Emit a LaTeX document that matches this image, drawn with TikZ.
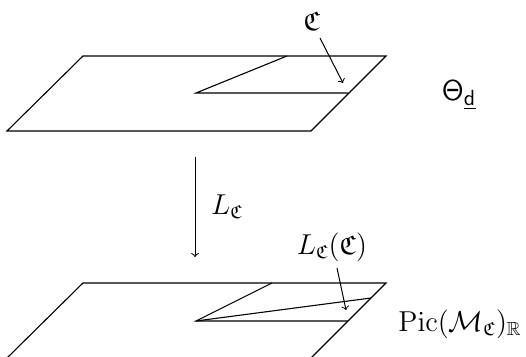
\documentclass[tikz,border=0pt]{standalone}
\usepackage{amsmath,amssymb}
\begin{document}
\begin{tikzpicture}[x=0.5pt,y=-0.5pt,
  plane/.style={line width=0.55pt},
  pointer/.style={line width=0.5pt,-to},
  lab/.style={inner sep=0pt,font=\fontsize{13.5}{16}\selectfont}]
\useasboundingbox (0,0) rectangle (526,357);
\clip (0,0) rectangle (526,357);
% top plane
\coordinate (A1) at (7,131);
\coordinate (B1) at (83,56);
\coordinate (C1) at (386,56);
\coordinate (D1) at (311,131);
\draw[plane] (A1) -- (B1) -- (C1) -- (D1) -- cycle;
\coordinate (T1) at (287,56);
\coordinate (L1) at (196,93);
\coordinate (R1) at (348,93);
\draw[plane] (T1) -- (L1) -- (R1);
% bottom plane
\coordinate (A2) at (7,358);
\coordinate (B2) at (83,283);
\coordinate (C2) at (386,283);
\coordinate (D2) at (311,358);
\draw[plane] (A2) -- (B2) -- (C2) -- (D2) -- cycle;
\coordinate (T2) at (272,283);
\coordinate (L2) at (196,321);
\coordinate (R2) at (348,321);
\coordinate (S2) at (371,298);
\draw[plane] (T2) -- (L2) -- (R2);
\draw[plane] (L2) -- (S2);
% labels
\node[lab] (cc) at (312,21) {$\mathfrak{C}$};
\node[lab,font=\fontsize{15}{17}\selectfont] (theta) at (459,95) {$\mathsf{\Theta}_{\underline{\mathsf{d}}}$};
\node[lab] (Lc) at (227,207) {$L_{\mathfrak{C}}$};
\node[lab] (Lcc) at (332,247) {$L_{\mathfrak{C}}(\mathfrak{C})$};
\node[lab] (pic) at (460,324) {$\mathrm{Pic}(\mathcal{M}_{\mathfrak{C}})_{\mathbb{R}}$};
% arrows
\coordinate (p1s) at (320,38);
\coordinate (p1e) at (343,83);
\draw[pointer] (p1s) -- (p1e);
\coordinate (p2s) at (337,268);
\coordinate (p2e) at (346,310);
\draw[pointer] (p2s) -- (p2e);
\coordinate (vs) at (195,157);
\coordinate (ve) at (195,257);
\draw[pointer] (vs) -- (ve);
\end{tikzpicture}
\end{document}
